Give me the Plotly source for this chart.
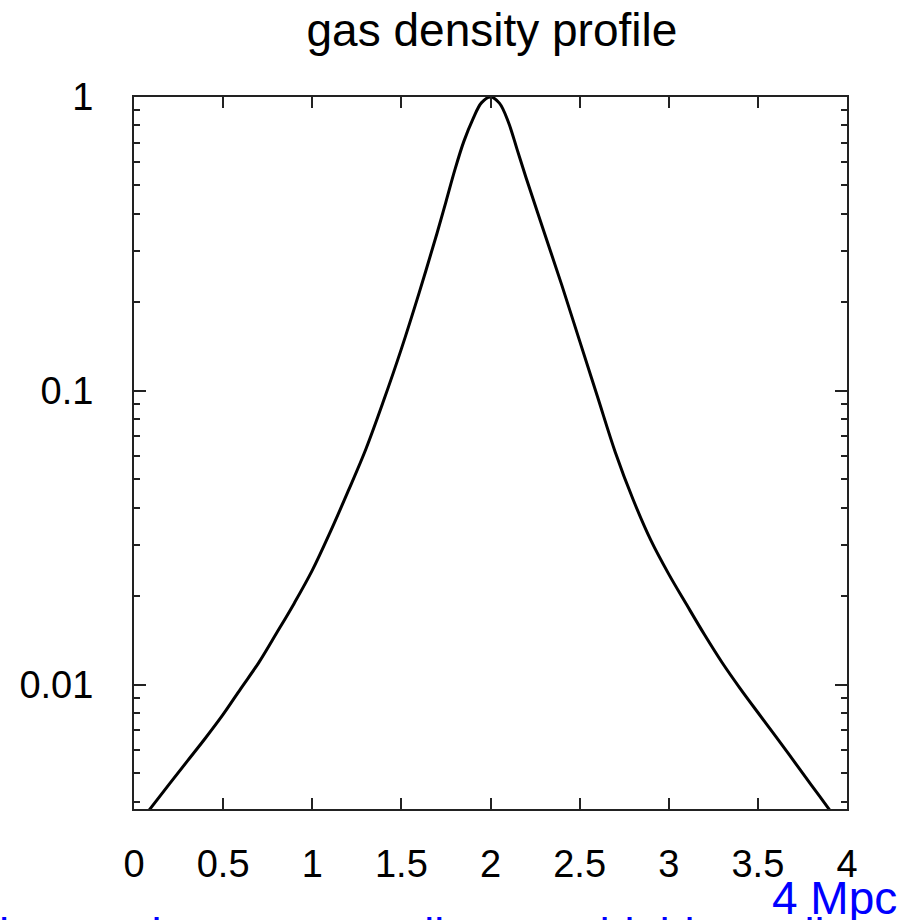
import plotly.graph_objects as go

# distance along the slice (Mpc) and normalised gas density
x_mpc = [0.0, 0.1, 0.2, 0.3, 0.4, 0.5, 0.6, 0.7, 0.8, 0.9, 1.0, 1.1, 1.2, 1.3,
         1.4, 1.5, 1.6, 1.7, 1.75, 1.8, 1.85, 1.9, 1.95, 2.0, 2.05, 2.1, 2.15,
         2.2, 2.3, 2.4, 2.5, 2.6, 2.7, 2.8, 2.9, 3.0, 3.1, 3.2, 3.3, 3.4, 3.5,
         3.6, 3.7, 3.8, 3.9, 4.0]
density = [0.00322, 0.00385, 0.00461, 0.00551, 0.00658, 0.00793, 0.00973, 0.0119,
           0.0150, 0.0190, 0.0245, 0.0330, 0.0454, 0.0632, 0.0925, 0.139, 0.216,
           0.344, 0.440, 0.565, 0.705, 0.838, 0.957, 1.0, 0.953, 0.822, 0.661,
           0.530, 0.348, 0.229, 0.148, 0.0957, 0.0619, 0.0427, 0.0310, 0.0238,
           0.01875, 0.01483, 0.01189, 0.00973, 0.00805, 0.00668, 0.00552, 0.00456,
           0.00377, 0.00311]

x_ticks = [0, 0.5, 1, 1.5, 2, 2.5, 3, 3.5, 4]
x_tick_text = ["0", "0.5", "1", "1.5", "2", "2.5", "3", "3.5", "4"]
y_ticks = [0.01, 0.1, 1]
y_tick_text = ["0.01", "0.1", "1"]
y_minor = [0.004, 0.005, 0.006, 0.007, 0.008, 0.009,
           0.02, 0.03, 0.04, 0.05, 0.06, 0.07, 0.08, 0.09,
           0.2, 0.3, 0.4, 0.5, 0.6, 0.7, 0.8, 0.9]

title_text = "gas density profile"
scale_label = "4 Mpc"
slide_text = "hat are between non-linear or highly nonlinear"

FONT = "Liberation Sans, Arial, Helvetica, sans-serif"
AX = "#222222"

fig = go.Figure()
fig.add_trace(go.Scatter(
    x=x_mpc, y=density, mode="lines",
    line=dict(color="black", width=3, shape="spline", smoothing=1.0),
    showlegend=False, hoverinfo="skip",
))

fig.update_layout(
    width=905, height=920,
    margin=dict(l=134, r=58, t=97, b=111),
    paper_bgcolor="white", plot_bgcolor="white",
    font=dict(family=FONT, color="black"),
    title=dict(text=title_text, font=dict(size=46, family=FONT, color="black"),
               x=0.502, xref="paper", xanchor="center",
               y=0.968, yref="container", yanchor="middle"),
    showlegend=False,
)

fig.update_xaxes(
    range=[0, 4], tickmode="array", tickvals=x_ticks, ticktext=x_tick_text,
    ticks="inside", ticklen=11, tickwidth=2, tickcolor=AX,
    showline=True, linecolor=AX, linewidth=2, mirror="allticks",
    showgrid=False, zeroline=False,
    tickfont=dict(size=38, family=FONT, color="black"),
    ticklabelstandoff=20,
)
fig.update_yaxes(
    type="log", range=[-2.4225, 0], tickmode="array", tickvals=y_ticks,
    ticktext=y_tick_text,
    ticks="inside", ticklen=12, tickwidth=2, tickcolor=AX,
    minor=dict(tickmode="array", tickvals=y_minor, ticks="inside", ticklen=6,
               tickwidth=2, tickcolor=AX, showgrid=False),
    showline=True, linecolor=AX, linewidth=2, mirror="allticks",
    showgrid=False, zeroline=False,
    tickfont=dict(size=38, family=FONT, color="black"),
    ticklabelstandoff=31,
)

fig.add_annotation(text=scale_label, xref="paper", yref="paper",
                   x=0.892, y=-0.125, xanchor="left", yanchor="middle",
                   showarrow=False, font=dict(size=46, family=FONT, color="#0000FF"))
fig.add_annotation(text=slide_text, xref="paper", yref="paper",
                   x=-0.192, y=-0.175, xanchor="left", yanchor="middle",
                   showarrow=False, font=dict(size=45, family=FONT, color="#0000FF"))

fig.write_html("out.html")
